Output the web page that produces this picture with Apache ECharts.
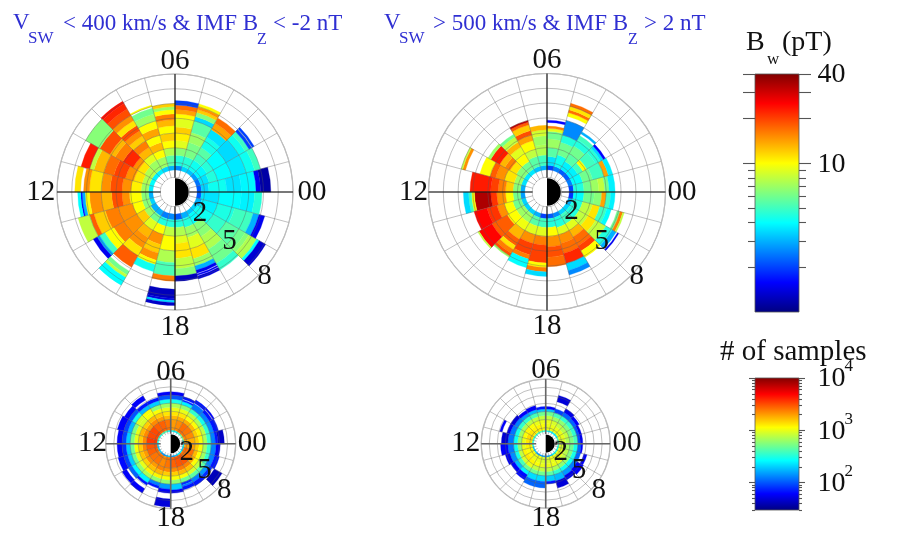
<!DOCTYPE html>
<html><head><meta charset="utf-8">
<style>html,body{margin:0;padding:0;background:#fff}#c{width:898px;height:544px;filter:blur(0.4px)}</style>
<script src="https://cdn.jsdelivr.net/npm/echarts@6/dist/echarts.min.js"></script>
</head><body><div id="c"></div>
<script>
// Each sector (one MLT hour, 00 upward) lists: L edge, value, L edge, value, ..., last L edge. null = no data.
const _ = null;
const bwSlowSouth = [
[1.5,2.2,1.8,3.4,2.3,4.2,3.5,3.6,4.5,3.9,5.5,1.5,5.8,1.15,6.5],
[1.5,2.4,1.8,3.6,2.4,4.5,3,4,4,3.7,5,4.2,5.6,5,6],
[1.5,2.8,1.8,3.9,2.5,4.6,3,4,4,3.5,5,4.2,5.5,5,5.8,2,6,_,6.05,2,6.2],
[1.5,3.2,1.8,4.2,2.5,5,3,5.5,3.5,4.3,4.3,3.6,4.9,14,5.4,17,5.8],
[1.5,3.4,1.8,4.6,2.5,6.2,3.5,7,4.2,5.5,5,3.5,5.3,6.5,5.6,12,5.8,15,6,10,6.2],
[1.5,2.6,1.8,4.5,2.5,6.5,3,9,3.5,10.5,4,12,4.4,9,5,10,5.3,14,5.6,17,5.9,2,6.2],
[1.5,3,1.8,5.5,2.5,7.5,3,10,3.5,12,4,10,4.5,13,4.9,16,5.3,10,5.6,7,5.8,12,6],
[1.5,3.4,1.8,7,2.5,10,3,13,3.5,10,4,14,4.5,10,5,7,5.5,6,5.9,_,6,10,6.1],
[1.5,3.8,1.8,7,2.5,9,3,13,3.5,16,4,12,4.4,15,4.8,19,5.2,11,5.6,15,6,19,6.5,22,6.9,24,7.1],
[1.5,3.8,1.8,7.5,2.4,11,2.9,15,3.3,22,4.1,16,4.7,13,5.1,19,5.9,6.5,7],
[1.5,4,1.8,7.5,2.3,11,2.9,15,3.5,20,4.3,17,5,13,5.7,8,6,23,6.6],
[1.5,3.8,1.8,7,2.3,10.5,3,15,3.6,19,4.4,15,5,11,5.8,15,6.2,_,6.4,11,6.8],
[1.5,3,1.8,6.5,2.3,10,3.1,15,3.6,19,4.3,13,5,15,5.8,10,6.1,3,6.3,1.6,6.4,4,6.6],
[1.5,3.4,1.8,6.5,2.3,10,3,15,4,16,4.9,12,5.7,18,6,8,6.8],
[1.5,3,1.9,7,2.4,12,3,15,4,16,4.8,10,5.5,5,5.9,3,6.1,1.5,6.4],
[1.5,3,1.9,6,2.4,9,3,13,3.6,15,4.4,11,5,18,5.9,_,6.2,6,6.5,8,6.7,4,7.3],
[1.5,2.5,1.9,4.5,2.4,10,3,15,3.7,12,4.3,15,4.8,10,5.1,4.2,5.6],
[1.5,2.6,1.9,4.5,2.4,8,3,10,4,7.5,4.8,5.2,5.7,16,6.05,_,6.6,1.25,7.2,1.4,7.35,3.5,7.5,1.3,7.7],
[1.5,2.2,1.9,4.5,2.4,7.5,3,9,3.5,11,4.5,8,5.2,6.5,5.7,1.25,6.05],
[1.5,3,1.9,4.5,2.5,7,3.2,9,4,11,4.7,7,5.2,3,5.5,1.5,5.7,_,5.75,1.5,5.85,_,5.9,1.4,6.1],
[1.5,3.2,1.8,4,2.5,6.5,3.5,7.5,4.5,6,5.6,4.8,6.1],
[1.5,3.4,1.8,4.2,3,4.8,4,5.5,5,6,5.5,6.5,5.8,7.5,6.4,4,6.6,1.35,7.1],
[1.5,3,1.9,3.8,3,4.4,4.2,5,5.5,3,5.9,1.5,6.3],
[1.5,2.2,1.8,3.6,3,4,4.5,3.8,5.4,4.6,5.9]
];
const bwFastNorth = [
[1.5,2,1.8,4.5,2.5,6,3,7,3.5,8,3.9,6,4.2,3.8,4.6],
[1.5,2.5,1.8,4,2.5,6,3.2,5,4,14,4.3,3.8,4.6],
[1.5,2.2,1.8,3.8,2.4,5,2.8,10,3.1,5,3.8,4.6,4.2,3.5,4.4,1.6,4.55],
[1.5,2.2,1.8,3.8,2.4,5.5,3,6,3.6,4.5,4.1,5,4.4,_,4.55,3,4.7],
[1.5,2.5,1.8,4.2,2.6,6,3.5,4.5,4,2.6,5,_,5.3,10,5.55,17,5.75,11,6,17,6.2],
[1.5,2,1.8,3.6,2.4,5.5,3,7,3.6,6,4.1,9,4.3,16,4.45,_,4.7,1.6,4.85],
[1.5,3,1.8,5,2.5,7.5,3.2,7,3.8,8.5,4.2,13,4.5],
[1.5,3.2,1.8,5.5,2.5,8,3,10,3.6,14,4,19,4.3,12,4.7,18,4.9,32,5],
[1.5,3.7,1.8,6,2.4,10,3,9,3.5,13,3.9,8,4.3,6,4.5],
[1.5,3.7,1.8,6.5,2.4,11,2.9,16,3.3,13,3.7,23,4.4,7,4.6],
[1.5,3.6,1.8,7,2.3,11,3,15,3.6,18,4,10,4.7,_,5.7,15,5.9,8,6],
[1.5,3,1.8,6.5,2.3,12,2.8,16,3.3,20,3.8,23,5.2],
[1.5,2.8,1.8,6,2.3,10,2.8,15,3.4,21,3.8,34,4.9,10,5.1,5,5.3,3.5,5.65],
[1.5,3.4,1.8,6,2.4,10,3,15,3.5,21,4.2,25,5.1],
[1.5,3.4,1.8,7,2.4,10,3.1,18,4.3,25,5.3,8,5.4],
[1.5,3.4,1.8,7,2.4,9.5,3,13,3.7,18,4.2,11,4.5,16,4.8,19,5,7,5.1],
[1.5,3,1.8,5.5,2.4,9,3,15,3.6,20,4.4,16,4.7,4,5.3],
[1.5,2,1.8,5,2.4,9,3,16,3.6,20,4.8,10,5.1,16,5.4,3.5,5.7],
[1.5,2.2,1.8,4.5,2.4,10,3,15,3.7,19,4.4,17,5.05],
[1.5,2.6,1.8,4.5,2.5,9,3,15,3.6,17,4.3,22,5,3.5,5.5,2.6,5.8],
[1.5,3.4,1.8,5,2.5,9,3,13,3.5,17,4.2,20,4.6,10,5.1],
[1.5,3.4,1.8,4.5,2.5,8,3.2,11,3.8,8,4.6,4.5,5.1,3,5.4,_,5.5,1.5,5.6],
[1.5,3,1.8,4.5,2.5,8,3.2,11,3.7,5,4.2,4,4.5,_,4.9,6,5.1,16,5.3,8,5.4],
[1.5,1.9,1.8,4,2.5,6,3.2,6.5,3.7,14,4,5,4.3,3.8,4.6]
];
const samplesSlowSouth = [
[1.5,300,1.7,1800,3,1500,3.5,1100,4,700,4.5,350,5,130,5.5,70,5.8,45,6.6],
[1.5,500,1.7,2200,3,1500,3.5,1200,4,800,4.5,350,5,140,5.5,70,6.1],
[1.5,500,1.7,2500,3,1700,3.5,1100,4,700,4.5,300,5,130,5.5,70,5.9,_,6,60,6.2],
[1.5,350,1.7,2600,3,1800,3.5,1100,4,800,4.5,350,5,120,5.7,_,5.8,70,6.2],
[1.5,250,1.7,2200,3,1800,3.5,1300,4,1000,4.5,600,5,250,5.4,80,5.6,_,5.7,70,6],
[1.5,260,1.7,2000,3,1700,3.5,1300,4,1000,4.5,700,5,300,5.5,100,6,60,6.4],
[1.5,260,1.7,2500,3,1700,3.5,1300,4,1000,4.5,650,5,300,5.5,100,6,60,6.4],
[1.5,400,1.7,2800,3,2000,3.5,1500,4,1100,4.5,600,5,200,5.5,70,5.9],
[1.5,400,1.7,2800,3,2200,3.5,1700,4,1100,4.5,1100,5,180,5.5,70,5.9,_,6.2,60,6.8],
[1.5,300,1.7,3200,3,2000,3.5,1500,4,900,4.5,900,5,300,5.5,100,6,60,6.6],
[1.5,350,1.7,3200,3,2200,3.5,1700,4,1000,4.5,550,5,180,5.5,90,6,60,6.8],
[1.5,300,1.7,3500,3,2200,3.5,1500,4,1000,4.5,550,5,200,5.5,90,6,60,6.6],
[1.5,200,1.7,3000,3,2300,3.5,1500,4,1100,4.5,500,5,200,5.5,80,6,60,6.6],
[1.5,200,1.7,2800,3,2000,3.5,1600,4,1000,4.5,500,5,200,5.5,90,6,65,6.7],
[1.5,200,1.7,2500,3,2200,3.5,1500,4,1000,4.5,600,5,260,5.5,110,6,_,6.3,60,6.9],
[1.5,150,1.7,2500,3,2000,3.5,1600,4,1200,4.5,700,5,250,5.6,70,5.9,_,6.4,60,7],
[1.5,150,1.7,2200,3,2300,3.5,1700,4,1200,4.5,600,5,130,5.4,70,5.7],
[1.5,200,1.7,2500,3,2200,3.5,1500,4,1100,4.5,600,5,150,5.6,60,6.1,_,6.8,50,7.8],
[1.5,150,1.7,2800,3,2200,3.5,1500,4,1100,4.5,600,5,200,5.7,60,6.1],
[1.5,180,1.7,3000,3,2400,3.5,1700,4,1100,4.5,500,5,80,5.3,130,5.5,70,5.9],
[1.5,250,1.7,3000,3,2300,3.5,1600,4,900,4.5,450,5,130,5.5,70,6],
[1.5,250,1.7,2500,3,1800,3.5,1100,4,800,4.5,450,5,150,5.5,80,5.9,_,6.2,42,7.3],
[1.5,200,1.7,2600,3,1700,3.5,1100,4,650,4.5,350,5,130,5.6,70,6.2],
[1.5,250,1.7,2000,3,1500,3.5,1100,4,650,4.5,350,5,130,5.6,60,6.1]
];
const samplesFastNorth = [
[1.5,350,1.7,900,2.5,700,3,550,3.5,400,4,100,4.3,55,4.6],
[1.5,400,1.7,1000,2.5,800,3,550,3.5,350,4,100,4.3,55,4.6],
[1.5,250,1.7,1000,2.5,750,3,550,3.5,350,4,110,4.4,60,4.8],
[1.5,250,1.7,1000,2.5,800,3,600,3.5,350,4,110,4.5,55,5],
[1.5,250,1.7,1000,2.5,900,3,650,3.5,400,4,90,4.5,_,5.4,50,6.2],
[1.5,250,1.7,1000,2.5,1000,3,800,3.5,500,4,200,4.3,60,4.6],
[1.5,300,1.7,1100,2.5,1000,3,800,3.5,500,4,200,4.3,70,4.6],
[1.5,400,1.7,1200,2.5,1000,3,800,3.5,400,4,180,4.4,60,4.9],
[1.5,400,1.7,1200,2.5,1100,3,750,3.5,350,4,150,4.4,60,4.8],
[1.5,350,1.7,1300,2.5,1200,3,700,3.5,350,4,130,4.5,50,5],
[1.5,350,1.7,1400,2.5,1100,3,650,3.5,300,4,120,4.6,55,5,_,5.6,60,5.9],
[1.5,300,1.7,1300,2.5,1000,3,600,3.5,280,4,120,4.7,48,5.5],
[1.5,300,1.7,1200,2.5,1000,3,600,3.5,280,4,120,4.7,60,5.6],
[1.5,200,1.7,1100,2.5,1200,3,800,3.5,300,4,140,4.6,55,5.2],
[1.5,200,1.7,1100,2.5,1300,3,900,3.5,400,4,180,4.5,60,5],
[1.5,150,1.7,1000,2.5,1200,3,1000,3.5,500,4,250,4.5,65,5.2],
[1.5,150,1.7,1000,2.5,1100,3,800,3.5,500,4,220,4.7,110,5.5],
[1.5,150,1.7,900,2.5,1000,3,800,3.5,500,4,220,4.7,110,5.5],
[1.5,150,1.7,900,2.5,1000,3,800,3.5,450,4,200,4.7,70,5],
[1.5,180,1.7,1000,2.5,1000,3,700,3.5,350,4,180,4.8,50,5.7],
[1.5,250,1.7,1000,2.5,1000,3,600,3.5,280,4,150,4.6,55,5.2],
[1.5,300,1.7,1000,2.5,800,3,600,3.5,280,4,130,4.5,60,5.4],
[1.5,300,1.7,1000,2.5,750,3,550,3.5,300,4,110,4.5,_,4.9,60,5.3],
[1.5,350,1.7,900,2.5,650,3,500,3.5,300,4,110,4.4,60,4.6]
];
const mltLabels = ['00','06','12','18'];
const mltCross = [0,6,12,18];
const lLabels = ['2','5','8'];
const bwMajorTicks = [10,20,30,40];
const bwMinorTicks = [2,3,4,5,6,7,8,9];
const bwTickLabels = [10,40];
const sampleMajorTicks = [100,1000,10000];
const sampleMinorTicks = [30,40,50,60,70,80,90,200,300,400,500,600,700,800,900,2000,3000,4000,5000,6000,7000,8000,9000];
const bwRange = [1,40];
const sampleRange = [30,10000];

const SERIF = '"Liberation Serif","Times New Roman",serif';
const panels = [
  {data:bwSlowSouth, range:bwRange, center:[175,192], radius:118, crossW:1.1, crossC:'#111', hole:1, lab:[[2.25,21.25],[4.98,21.2],[8.36,21.1]], mltPos:[9.29,8.88,9.1,9.2]},
  {data:bwFastNorth, range:bwRange, center:[547,192], radius:118.5, crossW:1.1, crossC:'#111', hole:1, lab:[[2.1,21.47],[4.97,21.2],[8.3,21.13]], mltPos:[9.12,8.9,9.02,9.07]},
  {data:samplesSlowSouth, range:sampleRange, center:[170.7,443.7], radius:65, crossW:1.6, crossC:'#666', hole:1.3, lab:[[2.27,22.04],[5.33,21.42],[8.77,21.24]], mltPos:[10.05,8.82,9.64,9.19]},
  {data:samplesFastNorth, range:sampleRange, center:[545.7,443.7], radius:64.5, crossW:1.6, crossC:'#666', hole:1.25, lab:[[2.14,22],[5.3,21.4],[8.77,21.24]], mltPos:[10.08,9.05,9.92,9.26]}
];
const jetStops = [[0,[0,0,128]],[.125,[0,0,255]],[.375,[0,255,255]],[.625,[255,255,0]],[.875,[255,0,0]],[1,[128,0,0]]];
function jet(t){
  t=Math.max(0,Math.min(1,t));
  for(let i=1;i<jetStops.length;i++){
    if(t<=jetStops[i][0]){
      const a=jetStops[i-1],b=jetStops[i],f=(t-a[0])/(b[0]-a[0]);
      return 'rgb('+[0,1,2].map(k=>Math.round(a[1][k]+(b[1][k]-a[1][k])*f)).join(',')+')';
    }
  }
}
function logT(v,r){return (Math.log10(v)-Math.log10(r[0]))/(Math.log10(r[1])-Math.log10(r[0]));}

const polar=[],angleAxis=[],radiusAxis=[],series=[];
const gridLine={color:'rgba(90,90,90,0.38)',width:1};
panels.forEach((p,i)=>{
  polar.push({center:p.center,radius:p.radius});
  angleAxis.push({polarIndex:i,type:'value',min:0,max:24,interval:1,startAngle:0,clockwise:false,z:3,
    axisLine:{show:true,lineStyle:{color:'#bdbdbd',width:1.2}},axisTick:{show:false},
    splitLine:{show:true,lineStyle:gridLine},axisLabel:{show:false}});
  radiusAxis.push({polarIndex:i,type:'value',min:0,max:8,interval:1,z:3,
    axisLine:{show:false},axisTick:{show:false},axisLabel:{show:false},
    splitLine:{show:true,lineStyle:gridLine}});
  const cells=[];
  p.data.forEach((row,h)=>{
    for(let k=0;k+2<row.length;k+=2){
      if(row[k+1]!==null) cells.push([row[k],row[k+2],h,row[k+1]]);
    }
  });
  series.push({type:'custom',coordinateSystem:'polar',polarIndex:i,z:2,silent:true,
    encode:{radius:[0,1],angle:2},data:cells,
    renderItem:(params,api)=>{
      const c=api.coord([0,0]),a=api.coord([api.value(0),api.value(2)]),b=api.coord([api.value(1),api.value(2)]),
        e=api.coord([api.value(1),api.value(2)+1]);
      const r0=Math.hypot(a[0]-c[0],a[1]-c[1]),r1=Math.hypot(b[0]-c[0],b[1]-c[1]);
      const start=Math.atan2(e[1]-c[1],e[0]-c[0]);
      let end=Math.atan2(b[1]-c[1],b[0]-c[0]); if(end<start) end+=2*Math.PI;
      const col=jet(logT(api.value(3),p.range));
      return {type:'sector',shape:{cx:c[0],cy:c[1],r0,r:r1,startAngle:start,endAngle:end,clockwise:true},
        style:{fill:col,stroke:col,lineWidth:0.3}};
    }});
  series.push({type:'custom',coordinateSystem:'polar',polarIndex:i,z:4,silent:true,
    encode:{radius:0,angle:1},data:mltCross.map(m=>[8,m]),
    renderItem:(params,api)=>{
      const c=api.coord([0,0]),q=api.coord([api.value(0),api.value(1)]);
      return {type:'line',shape:{x1:c[0],y1:c[1],x2:q[0],y2:q[1]},style:{stroke:p.crossC,lineWidth:p.crossW}};
    }});
  series.push({type:'custom',coordinateSystem:'polar',polarIndex:i,z:5,silent:true,
    encode:{radius:0,angle:1},data:[[p.hole,0]],
    renderItem:(params,api)=>{
      const c=api.coord([0,0]),q=api.coord([api.value(0),api.value(1)]);
      const R=Math.hypot(q[0]-c[0],q[1]-c[1]);
      return {type:'group',children:[
        {type:'circle',shape:{cx:c[0],cy:c[1],r:R-0.5},style:{fill:'#fff'}},
        {type:'sector',shape:{cx:c[0],cy:c[1],r0:0,r:R-1,startAngle:-Math.PI/2,endAngle:Math.PI/2,clockwise:true},style:{fill:'#000'}}
      ]};
    }});
  series.push({type:'custom',coordinateSystem:'polar',polarIndex:i,z:7,silent:true,
    encode:{radius:0,angle:1},data:p.lab.map((q,k)=>[q[0],q[1],k]),
    renderItem:(params,api)=>{
      const q=api.coord([api.value(0),api.value(1)]);
      return {type:'text',style:{x:q[0],y:q[1],text:lLabels[api.value(2)],font:'29px '+SERIF,fill:'#111',textAlign:'center',textVerticalAlign:'middle'}};
    }});
  series.push({type:'custom',coordinateSystem:'polar',polarIndex:i,z:7,silent:true,
    encode:{radius:0,angle:1},data:mltCross.map((m,k)=>[p.mltPos[k],m,k]),
    renderItem:(params,api)=>{
      const q=api.coord([api.value(0),api.value(1)]);
      return {type:'text',style:{x:q[0],y:q[1],text:mltLabels[api.value(2)],font:'29px '+SERIF,fill:'#111',textAlign:'center',textVerticalAlign:'middle'}};
    }});
});

const bars=[
 {top:74,height:238,range:bwRange,major:bwMajorTicks,minor:bwMinorTicks,labels:bwTickLabels,mLen:12,sLen:7,power:false,dy:1},
 {top:378,height:132,range:sampleRange,major:sampleMajorTicks,minor:sampleMinorTicks,labels:sampleMajorTicks,mLen:6,sLen:3,power:true,dy:1}
];
const grid=[],xAxis=[],yAxis=[];
bars.forEach((b,i)=>{
  grid.push({left:755,width:44,top:b.top,height:b.height});
  xAxis.push({gridIndex:i,type:'value',min:0,max:1,show:false});
  const base=i*4;
  [['left',b.major,b.mLen],['right',b.major,b.mLen],['left',b.minor,b.sLen],['right',b.minor,b.sLen]].forEach(a=>{
    yAxis.push({gridIndex:i,type:'log',logBase:10,min:b.range[0],max:b.range[1],position:a[0],
      axisLine:{show:false},splitLine:{show:false},minorTick:{show:false},
      axisTick:{show:true,length:a[2],customValues:a[1],lineStyle:{color:'#555',width:1.1}},
      axisLabel:{show:false}});
  });
  series.push({type:'custom',coordinateSystem:'cartesian2d',xAxisIndex:i,yAxisIndex:base,z:2,silent:true,
    data:[[0,b.range[0],1,b.range[1]]],encode:{x:[0,2],y:[1,3]},
    renderItem:(params,api)=>{
      const lo=api.coord([api.value(0),api.value(1)]),hi=api.coord([api.value(2),api.value(3)]);
      return {type:'rect',shape:{x:lo[0],y:hi[1],width:hi[0]-lo[0],height:lo[1]-hi[1]},
        style:{stroke:'#555',lineWidth:0.8,fill:new echarts.graphic.LinearGradient(0,1,0,0,
          jetStops.map(s=>({offset:s[0],color:'rgb('+s[1].join(',')+')'})))}};
    }});
  // tick labels, placed through the log axis
  series.push({type:'custom',coordinateSystem:'cartesian2d',xAxisIndex:i,yAxisIndex:base,z:7,silent:true,clip:false,
    data:b.labels.map(v=>[1,v]),encode:{x:0,y:1},
    renderItem:(params,api)=>{
      const v=api.value(1),q=api.coord([api.value(0),v]),x=q[0]+18.5,y=q[1]+b.dy;
      const font='28px '+SERIF;
      if(!b.power) return {type:'text',style:{x,y,text:String(v),font,fill:'#111',textAlign:'left',textVerticalAlign:'middle'}};
      return {type:'group',children:[
        {type:'text',style:{x,y,text:'10',font,fill:'#111',textAlign:'left',textVerticalAlign:'middle'}},
        {type:'text',style:{x:x+27,y:y-12,text:String(Math.round(Math.log10(v))),font:'17px '+SERIF,fill:'#111',textAlign:'left',textVerticalAlign:'middle'}}
      ]};
    }});
});

const BLUE='#2f2fd2';
function t(x,y,text,size,fill){return {type:'text',left:x,top:y,z:10,silent:true,style:{text,font:size+'px '+SERIF,fill:fill||BLUE}};}
const graphic=[
 t(13,11,'V',23),t(28,30,'SW',17),t(63,12,'< 400 km/s & IMF B',23),t(257,32,'Z',16),t(273,12,'< -2 nT',23),
 t(384,11,'V',23),t(399,30,'SW',17),t(433,12,'> 500 km/s & IMF B',23),t(628,32,'Z',16),t(644,12,'> 2 nT',23),
 t(746,29,'B',28,'#111'),t(767,51,'w',17,'#111'),t(782,29,'(pT)',28,'#111'),
 t(720,338,'# of samples',29,'#111')
];
const chart=echarts.init(document.getElementById('c'),null,{renderer:'canvas'});
chart.setOption({animation:false,backgroundColor:'#fff',polar,angleAxis,radiusAxis,grid,xAxis,yAxis,series,graphic});
</script></body></html>
